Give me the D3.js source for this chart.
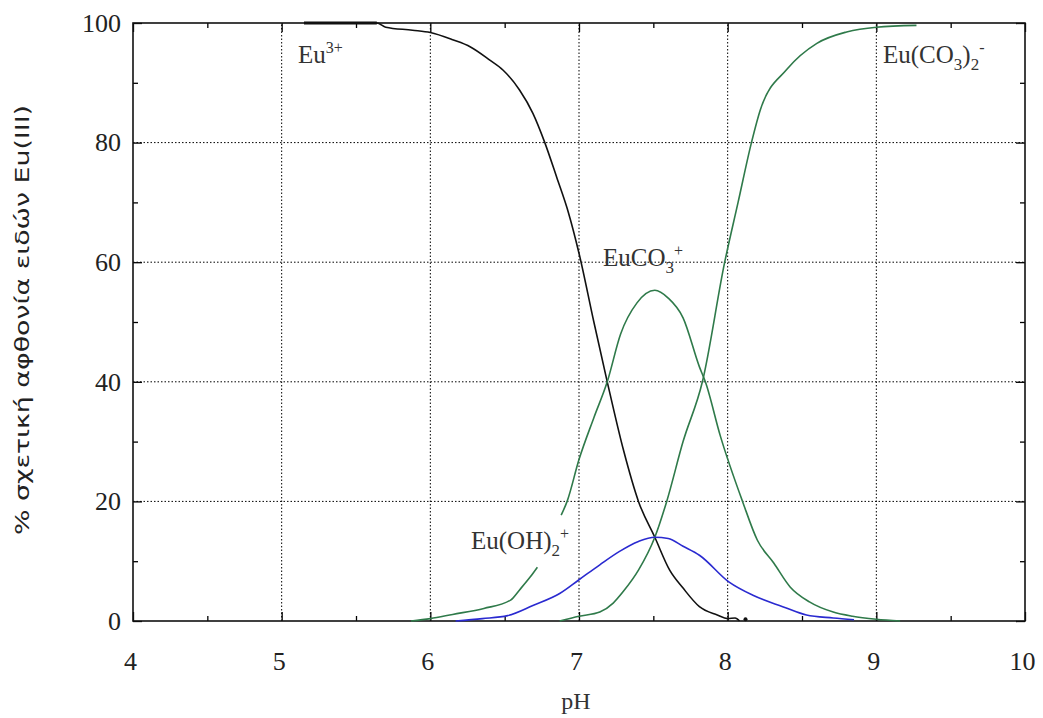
<!DOCTYPE html>
<html><head><meta charset="utf-8">
<script src="https://cdn.jsdelivr.net/npm/d3@7"></script>
<style>body{margin:0;background:#fff}svg{display:block}</style>
</head><body>
<svg id="c" width="1043" height="718"></svg>
<script>
// ---- data ----
const xTicks = [4,5,6,7,8,9,10];
const yTicks = [0,20,40,60,80,100];
const xTitle = "pH";
const yTitle = "% σχετική αφθονία ειδών Eu(III)";

const eu3pH  = [5.15,5.64,5.7,5.88,6.0,6.15,6.27,6.4,6.49,6.6,6.69,6.77,6.85,6.93,7.0,7.1,7.19,7.3,7.4,7.51,7.61,7.7,7.81,7.93,8.0,8.05,8.08];
const eu3Val = [100,100,99.3,98.8,98.4,97.2,96.0,93.8,92.1,88.8,84.9,80,74.2,68.2,61.5,50,40,28.5,20,14,8.5,5.5,2.4,1.0,0.4,0.5,0];

const euco3pH_a  = [5.87,6.0,6.15,6.36,6.54,6.6,6.67,6.72];
const euco3Val_a = [0,0.4,1.1,2.1,3.5,5.2,7.3,9];
const euco3pH_b  = [6.88,6.92,7.0,7.1,7.19,7.28,7.39,7.51,7.6,7.7,7.81,7.85,7.95,8.1,8.2,8.31,8.42,8.55,8.71,8.84,9.0,9.16];
const euco3Val_b = [17.7,20,27,34,40,48,53.2,55.3,54,50.7,42.5,40,31,20,13.5,9.7,5.7,3.2,1.5,0.8,0.3,0];

const eucarbpH  = [6.87,7.0,7.14,7.23,7.3,7.4,7.51,7.59,7.7,7.83,7.98,8.07,8.16,8.22,8.4,8.6,8.8,9.0,9.27];
const eucarbVal = [0,0.8,1.5,3,5,8.5,14,20,30,40,60,70,80,85.5,92.3,96.6,98.5,99.3,99.6];

const euohpH  = [6.17,6.35,6.52,6.69,6.87,7.0,7.14,7.27,7.4,7.51,7.6,7.7,7.81,8.01,8.17,8.37,8.53,8.71,8.85];
const euohVal = [0,0.4,0.9,2.6,4.6,6.9,9.4,11.6,13.3,14,13.8,12.5,11,6.5,4.3,2.4,1.0,0.5,0.2];

// ---- layout ----
const W = 1043, H = 718;
const m = {l:133, r:18, t:23, b:97};
const svg = d3.select("#c");
const x = d3.scaleLinear().domain([4,10]).range([m.l, W-m.r]);
const y = d3.scaleLinear().domain([0,100]).range([H-m.b, m.t]);
const serif = "'Liberation Serif','Times New Roman',serif";

// grid
const g = svg.append("g");
g.selectAll(".gx").data(xTicks.filter(d=>d>4&&d<10)).enter().append("line")
  .attr("x1",d=>x(d)).attr("x2",d=>x(d)).attr("y1",y(0)).attr("y2",y(100))
  .attr("stroke","#000").attr("stroke-width",1).attr("stroke-dasharray","1.5,2");
g.selectAll(".gy").data(yTicks.filter(d=>d>0&&d<100)).enter().append("line")
  .attr("y1",d=>y(d)).attr("y2",d=>y(d)).attr("x1",x(4)).attr("x2",x(10))
  .attr("stroke","#000").attr("stroke-width",1).attr("stroke-dasharray","1.5,2");

// axes with inward ticks (mirrored)
const xMinor = d3.range(4.5,10,1);
const yMinor = d3.range(10,100,20);
function ticks(sel){ sel.select(".domain").remove(); sel.selectAll("line").attr("stroke","#000").attr("stroke-width",1.3); }
svg.append("g").attr("transform",`translate(-3,${y(0)})`)
  .call(d3.axisBottom(x).tickValues(xTicks).tickSizeInner(0).tickSizeOuter(0).tickPadding(31).tickFormat(d3.format("d")))
  .call(ticks).call(s=>s.selectAll("text").attr("font-family",serif).attr("font-size",26).attr("fill","#222"));
svg.append("g").attr("transform",`translate(0,${y(0)})`)
  .call(d3.axisBottom(x).tickValues(xTicks).tickSizeInner(-9).tickSizeOuter(0).tickFormat(""))
  .call(ticks);
svg.append("g").attr("transform",`translate(0,${y(0)})`)
  .call(d3.axisBottom(x).tickValues(xMinor).tickSizeInner(-5).tickSizeOuter(0).tickFormat(""))
  .call(ticks);
svg.append("g").attr("transform",`translate(0,${y(100)})`)
  .call(d3.axisTop(x).tickValues(xTicks).tickSizeInner(-9).tickSizeOuter(0).tickFormat(""))
  .call(ticks);
svg.append("g").attr("transform",`translate(0,${y(100)})`)
  .call(d3.axisTop(x).tickValues(xMinor).tickSizeInner(-5).tickSizeOuter(0).tickFormat(""))
  .call(ticks);
svg.append("g").attr("transform",`translate(${x(4)},0)`)
  .call(d3.axisLeft(y).tickValues(yTicks).tickSizeInner(-9).tickSizeOuter(0).tickPadding(12).tickFormat(d3.format("d")))
  .call(ticks).call(s=>s.selectAll("text").attr("font-family",serif).attr("font-size",26).attr("fill","#222"));
svg.append("g").attr("transform",`translate(${x(4)},0)`)
  .call(d3.axisLeft(y).tickValues(yMinor).tickSizeInner(-5).tickSizeOuter(0).tickFormat(""))
  .call(ticks);
svg.append("g").attr("transform",`translate(${x(10)},0)`)
  .call(d3.axisRight(y).tickValues(yTicks).tickSizeInner(-9).tickSizeOuter(0).tickFormat(""))
  .call(ticks);
svg.append("g").attr("transform",`translate(${x(10)},0)`)
  .call(d3.axisRight(y).tickValues(yMinor).tickSizeInner(-5).tickSizeOuter(0).tickFormat(""))
  .call(ticks);

// frame
svg.append("rect").attr("x",x(4)).attr("y",y(100)).attr("width",x(10)-x(4)).attr("height",y(0)-y(100))
  .attr("fill","none").attr("stroke","#111").attr("stroke-width",1.6);

// curves
const line = d3.line().curve(d3.curveMonotoneX).x(d=>x(d[0])).y(d=>y(d[1]));
const zip = (a,b)=>a.map((v,i)=>[v,b[i]]);
const green = "#2f7a4a", blue = "#2a2ad0";
[[zip(eu3pH,eu3Val),"#111"],
 [zip(euco3pH_a,euco3Val_a),green],
 [zip(euco3pH_b,euco3Val_b),green],
 [zip(eucarbpH,eucarbVal),green],
 [zip(euohpH,euohVal),blue]].forEach(([d,c])=>{
  svg.append("path").datum(d).attr("d",line).attr("fill","none").attr("stroke",c).attr("stroke-width",1.6);
});
// thick top segment of Eu3+
svg.append("path").datum(zip(eu3pH.slice(0,2),eu3Val.slice(0,2))).attr("d",line)
  .attr("fill","none").attr("stroke","#111").attr("stroke-width",3);
svg.append("circle").attr("cx",x(8.12)).attr("cy",y(0.3)).attr("r",2).attr("fill","#111");

// species labels
function label(px,py,parts){
  const t = svg.append("text").attr("x",px).attr("y",py).attr("font-family",serif).attr("font-size",25).attr("fill","#333");
  parts.forEach(p=>{
    const s = t.append("tspan").text(p.t);
    if(p.sub){ s.attr("font-size",17).attr("dy",7); }
    if(p.sup){ s.attr("font-size",16).attr("dy",p.dy!==undefined?p.dy:-10); }
    if(p.base){ s.attr("dy",p.base); }
  });
}
label(298,63,[{t:"Eu"},{t:"3+",sup:true}]);
label(883,63,[{t:"Eu(CO"},{t:"3",sub:true},{t:")",base:-7},{t:"2",sub:true},{t:"-",sup:true,dy:-17}]);
label(603,266,[{t:"EuCO"},{t:"3",sub:true},{t:"+",sup:true,dy:-17}]);
label(471,549,[{t:"Eu(OH)"},{t:"2",sub:true},{t:"+",sup:true,dy:-17}]);

// axis titles
svg.append("text").attr("x",(x(4)+x(10))/2-3).attr("y",709).attr("text-anchor","middle")
  .attr("font-family",serif).attr("font-size",24).attr("fill","#333").text(xTitle);
svg.append("text").attr("transform",`translate(29,${320}) rotate(-90)`).attr("text-anchor","middle")
  .attr("font-family","'DejaVu Sans',sans-serif").attr("font-size",20).attr("fill","#222")
  .attr("textLength",430).attr("lengthAdjust","spacingAndGlyphs").text(yTitle);
</script>
</body></html>
